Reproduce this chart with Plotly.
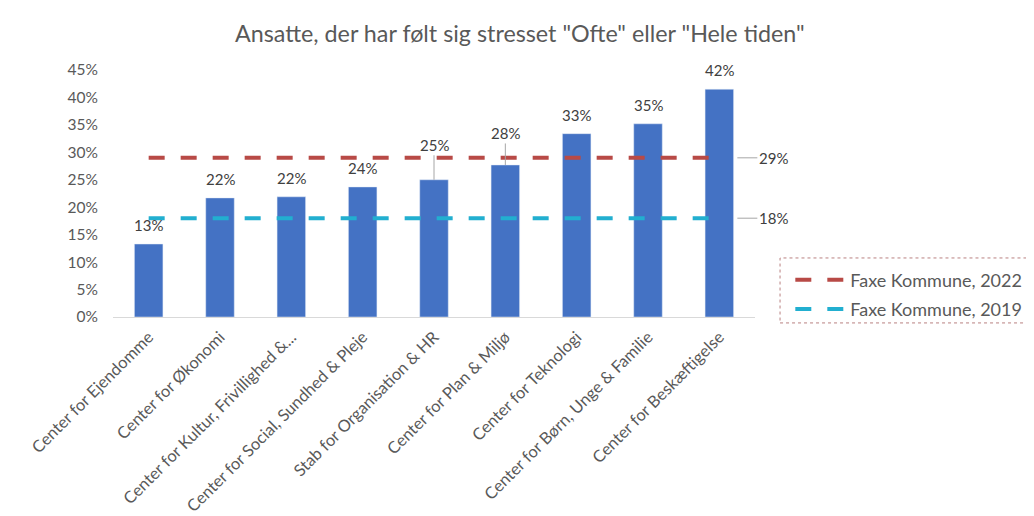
import plotly.graph_objects as go

title = 'Ansatte, der har følt sig stresset "Ofte" eller "Hele tiden"'
categories = [
    "Center for Ejendomme",
    "Center for Økonomi",
    "Center for Kultur, Frivillighed &...",
    "Center for Social, Sundhed & Pleje",
    "Stab for Organisation & HR",
    "Center for Plan & Miljø",
    "Center for Teknologi",
    "Center for Børn, Unge & Familie",
    "Center for Beskæftigelse",
]
stress_values = [0.133, 0.217, 0.219, 0.237, 0.25, 0.277, 0.334, 0.352, 0.415]
faxe_2022 = 0.29
faxe_2019 = 0.18
series_names = ["Faxe Kommune, 2022", "Faxe Kommune, 2019"]
y_ticks = [0, 0.05, 0.10, 0.15, 0.20, 0.25, 0.30, 0.35, 0.40, 0.45]

FONT = "Lato, 'Open Sans', sans-serif"
GRAY = "#595959"
BAR = "#4472C4"
RED = "#B84A46"
CYAN = "#22AFD0"

fig = go.Figure()
fig.add_trace(go.Bar(x=categories, y=stress_values, marker_color=BAR,
                     showlegend=False, width=0.4))
fig.add_trace(go.Scatter(x=categories, y=[faxe_2022] * len(categories), mode="lines",
                         name=series_names[0], legendgroup="a",
                         line=dict(color=RED, width=4, dash="16px,16px")))
fig.add_trace(go.Scatter(x=categories, y=[faxe_2019] * len(categories), mode="lines",
                         name=series_names[1], legendgroup="b",
                         line=dict(color=CYAN, width=4, dash="16px,16px")))

# bar data labels (two are moved up with leader lines)
label_lift = [0, 0, 0, 0, 35, 32, 0, 0, 0]
for cat, v, lift in zip(categories, stress_values, label_lift):
    txt = f"{round(v * 100):.0f}%"
    if lift:
        fig.add_annotation(x=cat, y=v, text=txt, showarrow=True, arrowhead=0,
                           arrowwidth=1, arrowcolor="#A6A6A6", ax=0, ay=-lift,
                           font=dict(family=FONT, size=15, color="#404040"))
    else:
        fig.add_annotation(x=cat, y=v, text=txt, showarrow=False, yanchor="bottom",
                           yshift=8, font=dict(family=FONT, size=15, color="#404040"))

# line end labels
for v in [faxe_2022, faxe_2019]:
    fig.add_annotation(x=categories[-1], y=v, text=f"{round(v * 100):.0f}%",
                       showarrow=True, arrowhead=0, arrowwidth=1, arrowcolor="#A6A6A6",
                       ax=38, ay=0, standoff=18, xanchor="left",
                       font=dict(family=FONT, size=15, color="#404040"))

# dashed legend frame
fig.add_shape(type="rect", xref="paper", yref="paper", x0=1.039, x1=1.428,
              y0=-0.024, y1=0.239, line=dict(color="#B98080", width=1, dash="dot"))

fig.update_layout(
    width=1034, height=516,
    margin=dict(l=105, r=287, t=62, b=207, autoexpand=False),
    paper_bgcolor="white", plot_bgcolor="white",
    font=dict(family=FONT, color=GRAY),
    title=dict(text=title, x=0.495, xref="container", xanchor="center", y=0.95,
               yanchor="middle", font=dict(family=FONT, size=23.3, color=GRAY)),
    xaxis=dict(range=[-0.5, len(categories) - 0.5], autorange=False,
               tickangle=-45, showgrid=False, showline=True, linecolor="#D9D9D9",
               linewidth=1, ticks="", ticklabelstandoff=3,
               tickfont=dict(family=FONT, size=16.5, color=GRAY)),
    yaxis=dict(range=[0, 0.45], tickvals=y_ticks, tickformat=".0%", showgrid=False,
               zeroline=False, showline=False, ticks="", ticklabelstandoff=14,
               tickfont=dict(family=FONT, size=15.5, color=GRAY)),
    legend=dict(x=1.055, y=0.225, xanchor="left", yanchor="top", itemwidth=50,
                font=dict(family=FONT, size=18, color=GRAY), tracegroupgap=3,
                bgcolor="rgba(0,0,0,0)"),
    bargap=0.6,
)

fig.write_html("out.html")
